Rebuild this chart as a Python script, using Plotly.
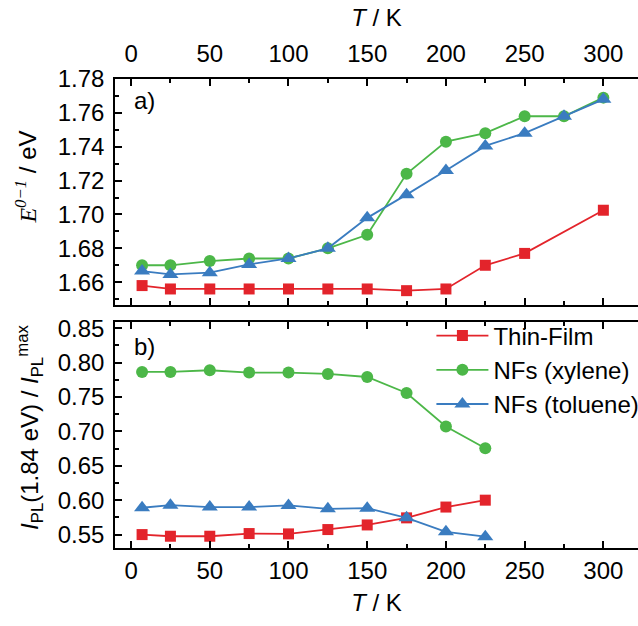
import plotly.graph_objects as go
from plotly.subplots import make_subplots

# ---- data ----
temp_top_tf = [7, 25, 50, 75, 100, 125, 150, 175, 200, 225, 250, 300]
e01_thin_film = [1.658, 1.656, 1.656, 1.656, 1.656, 1.656, 1.656, 1.655, 1.656, 1.670, 1.677, 1.7025]
temp_top_nf = [7, 25, 50, 75, 100, 125, 150, 175, 200, 225, 250, 275, 300]
e01_xylene = [1.670, 1.670, 1.6725, 1.674, 1.674, 1.680, 1.688, 1.724, 1.743, 1.748, 1.758, 1.758, 1.769]
e01_toluene = [1.6666, 1.6646, 1.6656, 1.6705, 1.674, 1.680, 1.698, 1.7117, 1.726, 1.7405, 1.748, 1.758, 1.768]

temp_bottom = [7, 25, 50, 75, 100, 125, 150, 175, 200, 225]
ipl_thin_film = [0.550, 0.5476, 0.5476, 0.5515, 0.551, 0.5573, 0.564, 0.5743, 0.590, 0.600]
ipl_xylene = [0.7864, 0.7864, 0.7888, 0.7854, 0.7854, 0.7835, 0.779, 0.7557, 0.7071, 0.6755]
ipl_toluene = [0.589, 0.5928, 0.590, 0.590, 0.5923, 0.5874, 0.5884, 0.5743, 0.554, 0.547]

series_names = ["Thin-Film", "NFs (xylene)", "NFs (toluene)"]
x_ticks = [0, 50, 100, 150, 200, 250, 300]

RED = "#e3242b"
GREEN = "#4cb748"
BLUE = "#3a7cc0"
FONT = "Liberation Sans, Arial, sans-serif"
FS = 24

fig = make_subplots(rows=2, cols=1, vertical_spacing=0.036)

def add(x, y, name, color, symbol, size, row, show):
    fig.add_trace(go.Scatter(
        x=x, y=y, name=name, mode="lines+markers",
        line=dict(color=color, width=1.8),
        marker=dict(color=color, symbol=symbol, size=size, line=dict(width=0)),
        showlegend=show), row=row, col=1)

add(temp_top_tf, e01_thin_film, series_names[0], RED, "square", 11, 1, False)
add(temp_top_nf, e01_xylene, series_names[1], GREEN, "circle", 12, 1, False)
add(temp_top_nf, e01_toluene, series_names[2], BLUE, "triangle-up", 14, 1, False)

add(temp_bottom, ipl_thin_film, series_names[0], RED, "square", 11, 2, True)
add(temp_bottom, ipl_xylene, series_names[1], GREEN, "circle", 12, 2, True)
add(temp_bottom, ipl_toluene, series_names[2], BLUE, "triangle-up", 14, 2, True)

common_x = dict(range=[-10.2, 322], tickmode="array", tickvals=x_ticks,
                ticks="inside", ticklen=7, tickwidth=1.5, tickcolor="black",
                showline=True, linewidth=1.5, linecolor="black", mirror="ticks",
                showgrid=False, zeroline=False,
                minor=dict(ticks="inside", ticklen=4, dtick=25, tick0=0,
                           tickcolor="black", tickwidth=1.5),
                tickfont=dict(size=FS, color="black", family=FONT))

fig.update_xaxes(**common_x, side="top", ticklabelstandoff=6,
                 title=dict(text="<i>T</i> / K", font=dict(size=FS, family=FONT, color="black"), standoff=6),
                 row=1, col=1)
fig.update_xaxes(**common_x, side="bottom",
                 title=dict(text="<i>T</i> / K", font=dict(size=FS, family=FONT, color="black"), standoff=12),
                 row=2, col=1)

common_y = dict(ticks="inside", ticklen=7, tickwidth=1.5, tickcolor="black",
                showline=True, linewidth=1.5, linecolor="black", mirror=False,
                showgrid=False, zeroline=False, ticklabelstandoff=4,
                tickfont=dict(size=FS, color="black", family=FONT))

fig.update_yaxes(**common_y, range=[1.6465, 1.78], dtick=0.02, tick0=1.66, tickformat=".2f",
                 minor=dict(ticks="inside", ticklen=4, dtick=0.01, tickcolor="black", tickwidth=1.5),
                 row=1, col=1)
fig.update_yaxes(**common_y, range=[0.5305, 0.859], dtick=0.05, tick0=0.55, tickformat=".2f",
                 minor=dict(ticks="inside", ticklen=4, dtick=0.025, tick0=0.55, tickcolor="black", tickwidth=1.5),
                 row=2, col=1)

# y-axis titles as rotated annotations (positioned like the reference)
fig.add_annotation(
    text="<i><span style='font-family:Liberation Serif'>E</span></i><sup><i><span style='font-family:Liberation Serif'>0−1</span></i></sup> / eV",
    xref="paper", yref="paper", x=-0.170, y=0.79, textangle=-90,
    xanchor="center", yanchor="middle", showarrow=False,
    font=dict(size=FS, family=FONT, color="black"))
fig.add_annotation(
    text="<i>I</i><sub>PL</sub>(1.84 eV) / <i>I</i><sub>PL</sub><sup>max</sup>",
    xref="paper", yref="paper", x=-0.1625, y=0.256, textangle=-90,
    xanchor="center", yanchor="middle", showarrow=False,
    font=dict(size=FS, family=FONT, color="black"))

fig.add_annotation(text="a)", xref="x domain", yref="y domain", x=0.032, y=0.907,
                   xanchor="left", yanchor="middle", showarrow=False,
                   font=dict(size=FS, family=FONT, color="black"))
fig.add_annotation(text="b)", xref="x2 domain", yref="y2 domain", x=0.032, y=0.892,
                   xanchor="left", yanchor="middle", showarrow=False,
                   font=dict(size=FS, family=FONT, color="black"))

fig.update_layout(
    width=638, height=626,
    margin=dict(l=115, r=0, t=79, b=78, autoexpand=False),
    paper_bgcolor="white", plot_bgcolor="white",
    font=dict(family=FONT, size=FS, color="black"),
    legend=dict(x=0.605, y=0.5, xanchor="left", yanchor="top",
                bgcolor="rgba(0,0,0,0)", font=dict(size=FS, family=FONT, color="black"),
                tracegroupgap=0, itemwidth=52),
)

fig.write_html("out.html")
